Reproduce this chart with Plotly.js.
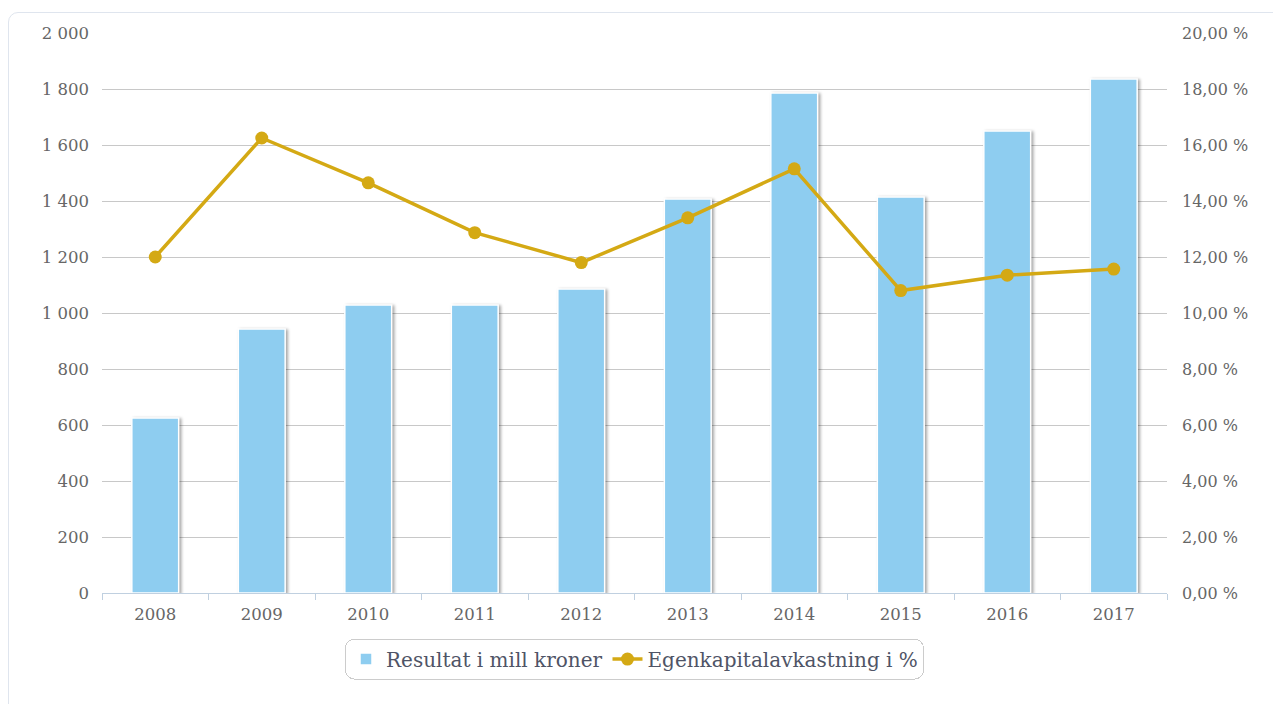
<!DOCTYPE html>
<html>
<head>
<meta charset="utf-8">
<script src="https://cdn.plot.ly/plotly-3.0.1.min.js"></script>
<style>
html,body{margin:0;padding:0;background:#fff;}
#wrap{position:relative;width:1273px;height:704px;}
#chart{width:1273px;height:704px;}
#frame{position:absolute;left:8px;top:12px;width:1290px;height:720px;border:1px solid #dfe5ee;border-radius:10px;pointer-events:none;}
.trace.bars .point path{filter:drop-shadow(2px 1px 1.5px rgba(0,0,0,0.35));}
.legend rect.bg{rx:9px;ry:9px;}
</style>
</head>
<body>
<div id="wrap"><div id="chart"></div><div id="frame"></div></div>
<script>
const years = ['2008','2009','2010','2011','2012','2013','2014','2015','2016','2017'];
const resultat = [625, 943, 1029, 1029, 1086, 1407, 1786, 1414, 1650, 1836];
const avkastning = [12.0, 16.25, 14.65, 12.87, 11.8, 13.4, 15.15, 10.8, 11.35, 11.57];
const leftTickVals = [0,200,400,600,800,1000,1200,1400,1600,1800,2000];
const leftTickText = ['0','200','400','600','800','1 000','1 200','1 400','1 600','1 800','2 000'];
const rightTickVals = [0,2,4,6,8,10,12,14,16,18,20];
const rightTickText = ['0,00 %','2,00 %','4,00 %','6,00 %','8,00 %','10,00 %','12,00 %','14,00 %','16,00 %','18,00 %','20,00 %'];

const font = "'DejaVu Serif', 'Liberation Serif', serif";

const traces = [
  {
    type:'bar', x: years, y: resultat, name:'Resultat i mill kroner',
    marker:{color:'#8ecdf0', line:{color:'#ffffff', width:1.5}},
    hoverinfo:'x+y'
  },
  {
    type:'scatter', mode:'lines+markers', x: years, y: avkastning, yaxis:'y2',
    name:'Egenkapitalavkastning i %',
    line:{color:'#d4a914', width:3.5},
    marker:{color:'#d4a914', size:13}
  }
];

const layout = {
  width:1273, height:704,
  margin:{l:102, r:106, t:33, b:111},
  paper_bgcolor:'rgba(0,0,0,0)', plot_bgcolor:'rgba(0,0,0,0)',
  font:{family:font, color:'#666666', size:16},
  bargap:0.56,
  showlegend:true,
  legend:{orientation:'h', x:0.5, xanchor:'center', y:-0.118, yanchor:'middle',
    bordercolor:'#cccccc', borderwidth:1, bgcolor:'#ffffff',
    font:{family:font, size:20, color:'#4f5466'}, traceorder:'normal',
    itemwidth:30},
  xaxis:{
    type:'category', range:[-0.5, 9.5], showgrid:false, zeroline:false,
    showline:true, linecolor:'#c0d0e0', linewidth:1,
    ticks:'outside', tickson:'boundaries', ticklen:6, tickcolor:'#c0d0e0',
    ticklabelstandoff:6,
    tickfont:{family:font, size:16.5, color:'#666666'}
  },
  yaxis:{
    range:[0,2000], tickvals:leftTickVals, ticktext:leftTickText,
    showgrid:true, gridcolor:'#c8c8c8', gridwidth:1, zeroline:false,
    ticks:'', ticklabelstandoff:12,
    tickfont:{family:font, size:16.5, color:'#666666'}
  },
  yaxis2:{
    range:[0,20], tickvals:rightTickVals, ticktext:rightTickText,
    overlaying:'y', side:'right', showgrid:false, zeroline:false,
    ticks:'', ticklabelstandoff:14,
    tickfont:{family:font, size:16, color:'#666666'}
  }
};

Plotly.newPlot('chart', traces, layout, {displayModeBar:false, responsive:false});
</script>
</body>
</html>
